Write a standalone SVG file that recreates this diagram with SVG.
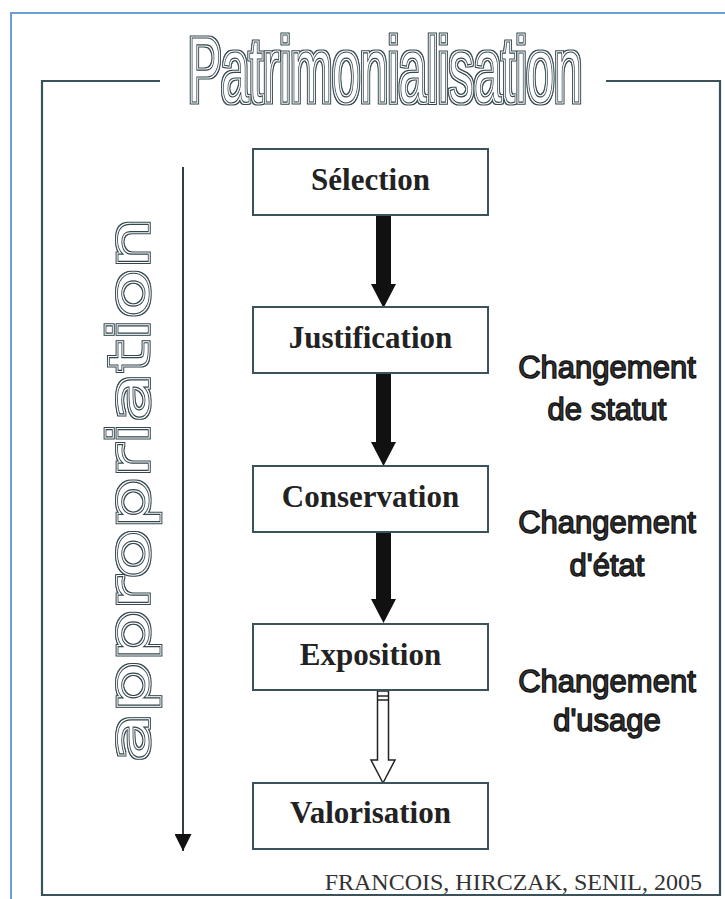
<svg xmlns="http://www.w3.org/2000/svg" width="725" height="899" viewBox="0 0 725 899">
  <defs>
    <filter id="dbl" x="-0.1" y="-0.3" width="1.2" height="1.6">
      <feMorphology in="SourceAlpha" operator="dilate" radius="2.1" result="d2"/>
      <feMorphology in="SourceAlpha" operator="dilate" radius="1.2" result="d1"/>
      <feComposite in="d2" in2="d1" operator="out" result="ring"/>
      <feFlood flood-color="#34464d"/>
      <feComposite in2="ring" operator="in" result="ringc"/>
      <feMerge><feMergeNode in="ringc"/><feMergeNode in="SourceGraphic"/></feMerge>
    </filter>
    <marker id="tri" viewBox="0 0 10 10" refX="10" refY="5" markerWidth="17" markerHeight="17" markerUnits="userSpaceOnUse" orient="auto">
      <path d="M0,0 L10,5 L0,10 Z" fill="#111"/>
    </marker>
  </defs>
  <style>
    .frame { fill: none; stroke: #3a525b; stroke-width: 2.2; }
    .box { fill: #fff; stroke: #3a525b; stroke-width: 2; }
    .boxtxt { font-family: "Liberation Serif", "Times New Roman", serif; font-weight: bold; font-size: 31px; fill: #222; text-anchor: middle; }
    .lbl { font-family: "Liberation Sans", Arial, sans-serif; font-size: 31px; fill: #3a3a3a; stroke: #151515; stroke-width: 1.4; text-anchor: middle; }
    .outl { fill: #fff; stroke: #34464d; stroke-width: 1; vector-effect: non-scaling-stroke; }
    .solid { fill: #111; stroke: none; }
    .hollow { fill: #fff; stroke: #222; stroke-width: 1.5; }
  </style>
  <rect x="0" y="0" width="725" height="899" fill="#fff"/>
  <rect x="11" y="13" width="800" height="900" fill="none" stroke="#6a9ed6" stroke-width="2"/>

  <g id="frame">
    <path class="frame" d="M160,81 L42,81 L42,895 L720,895 L720,81 L606,81"/>
  </g>

  <g id="title" filter="url(#dbl)">
    <text transform="translate(385,102) scale(0.543,1)" x="0" y="0" font-family="Liberation Sans, Arial, sans-serif" font-size="92" text-anchor="middle" class="outl">Patrimonialisation</text>
  </g>

  <g id="appropriation">
    <g filter="url(#dbl)">
      <text transform="translate(148,762) rotate(-90) scale(1.47,1)" x="0" y="0" font-family="DejaVu Sans, Verdana, sans-serif" font-size="55" class="outl">appropriation</text>
    </g>
    <line x1="183" y1="167" x2="183" y2="851" stroke="#2f3f45" stroke-width="2" marker-end="url(#tri)"/>
  </g>

  <g id="connectors">
    <polygon class="solid" points="376,215 391,215 391,284 396,284 383.5,308 371,284 376,284"/>
    <polygon class="solid" points="376,373 391,373 391,442 396,442 383.5,466 371,442 376,442"/>
    <polygon class="solid" points="376,532 391,532 391,599 396,599 383.5,623 371,599 376,599"/>
    <polygon class="hollow" points="377.5,691 388.5,691 388.5,760 395,760 383,783 371,760 377.5,760"/>
    <line x1="377.5" y1="696" x2="388.5" y2="696" stroke="#222" stroke-width="1.5"/>
    <line x1="377.5" y1="700" x2="388.5" y2="700" stroke="#222" stroke-width="1.5"/>
  </g>

  <g id="node-selection">
    <rect class="box" x="253" y="149" width="235" height="66"/>
    <text class="boxtxt" x="370.5" y="190">Sélection</text>
  </g>
  <g id="node-justification">
    <rect class="box" x="253" y="307" width="235" height="66"/>
    <text class="boxtxt" x="370.5" y="348">Justification</text>
  </g>
  <g id="node-conservation">
    <rect class="box" x="253" y="466" width="235" height="66"/>
    <text class="boxtxt" x="370.5" y="507">Conservation</text>
  </g>
  <g id="node-exposition">
    <rect class="box" x="253" y="624" width="235" height="66"/>
    <text class="boxtxt" x="370.5" y="665">Exposition</text>
  </g>
  <g id="node-valorisation">
    <rect class="box" x="253" y="783" width="235" height="66"/>
    <text class="boxtxt" x="370.5" y="823">Valorisation</text>
  </g>

  <g id="labels">
    <text class="lbl" x="607" y="378">Changement</text>
    <text class="lbl" x="607" y="420">de statut</text>
    <text class="lbl" x="607" y="533">Changement</text>
    <text class="lbl" x="607" y="576">d'état</text>
    <text class="lbl" x="607" y="692">Changement</text>
    <text class="lbl" x="607" y="731">d'usage</text>
  </g>

  <g id="citation">
    <text x="702" y="890" font-family="Liberation Serif, Times New Roman, serif" font-size="24" fill="#333" text-anchor="end">FRANCOIS, HIRCZAK, SENIL, 2005</text>
  </g>
</svg>
